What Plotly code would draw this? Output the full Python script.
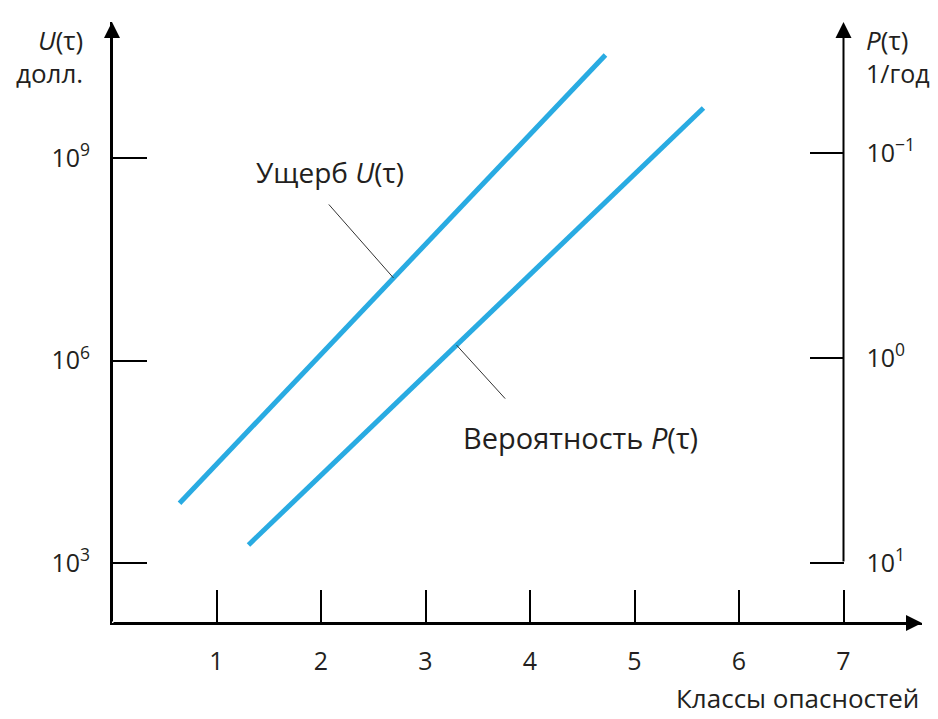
import math
import plotly.graph_objects as go

# ---------------- data ----------------
damage_x = [0.646, 4.722]              # hazard class
damage_u = [7.7e3, 3.36e10]            # U(τ), долл.
prob_x = [1.306, 5.660]                # hazard class
prob_p = [8.17, 0.0603]                # P(τ), 1/год

x_ticks = [1, 2, 3, 4, 5, 6, 7]
x_tick_text = ["1", "2", "3", "4", "5", "6", "7"]
u_ticks = [1e3, 1e6, 1e9]
u_tick_text = ["10<sup>3</sup>", "10<sup>6</sup>", "10<sup>9</sup>"]
p_ticks = [10, 1, 0.1]
p_tick_text = ["10<sup>1</sup>", "10<sup>0</sup>", "10<sup>\u22121</sup>"]

# ---------------- layout geometry ----------------
OFF = 8                     # page body margin of the browser
W, H = 938 - OFF, 719 - OFF
L, R, T, B = 112 - OFF, 16, 22 - OFF, 96
PW, PH = W - L - R, H - T - B
X_MAX = PW / 104.5
U_RANGE = [2.111, 11.015]
P_RANGE = [1.293, -1.639]

BLUE = "#29ABE2"
FONT = "Open Sans"
TXT = "#231f20"


def px(xp):
    # xp: pixel in the 938x719 window
    return (xp - OFF - L) / PW


def py(yp):
    return 1 - (yp - OFF - T) / PH


def interp_log(xs, ys, x):
    t = (x - xs[0]) / (xs[1] - xs[0])
    return math.log10(ys[0]) + t * (math.log10(ys[1]) - math.log10(ys[0]))


fig = go.Figure()
fig.add_trace(go.Scatter(x=damage_x, y=damage_u, mode="lines",
                         line=dict(color=BLUE, width=5), yaxis="y",
                         showlegend=False, hoverinfo="skip"))
fig.add_trace(go.Scatter(x=prob_x, y=prob_p, mode="lines",
                         line=dict(color=BLUE, width=5), yaxis="y2",
                         showlegend=False, hoverinfo="skip"))

annotations = []
# axis arrows
arrow = dict(showarrow=True, arrowhead=2, arrowsize=1.6, arrowwidth=2,
             arrowcolor="black", text="", standoff=0)
annotations.append(dict(arrow, xref="paper", yref="paper", x=0, y=1,
                        ax=0, ay=PH))
annotations.append(dict(arrow, xref="paper", yref="paper", x=1, y=0,
                        ax=-PW, ay=0))
annotations.append(dict(arrow, xref="x", yref="y2", x=7, y=P_RANGE[1],
                        axref="x", ayref="y2", ax=7, ay=math.log10(p_ticks[0])))

# leader lines
annotations.append(dict(xref="x", yref="y", x=2.694,
                        y=interp_log(damage_x, damage_u, 2.694),
                        ax=-66, ay=-75, showarrow=True, arrowhead=0,
                        arrowwidth=1, arrowcolor="#333", text=""))
annotations.append(dict(xref="x", yref="y2", x=3.297,
                        y=interp_log(prob_x, prob_p, 3.297),
                        ax=50, ay=55, showarrow=True, arrowhead=0,
                        arrowwidth=1, arrowcolor="#333", text=""))

# labels
lab_font = dict(family=FONT, size=28, color=TXT)
annotations.append(dict(xref="paper", yref="paper", x=px(330), y=py(172),
                        text="Ущерб <i>U</i>(τ)", showarrow=False,
                        font=lab_font, xanchor="center", yanchor="middle"))
annotations.append(dict(xref="paper", yref="paper", x=px(580), y=py(437),
                        text="Вероятность <i>P</i>(τ)", showarrow=False,
                        font=dict(lab_font, size=29), xanchor="center",
                        yanchor="middle"))
ax_font = dict(family=FONT, size=26, color=TXT)
annotations.append(dict(xref="paper", yref="paper", x=px(85), y=py(40),
                        text="<i>U</i>(τ)", showarrow=False, font=ax_font,
                        xanchor="right", yanchor="middle"))
annotations.append(dict(xref="paper", yref="paper", x=px(85), y=py(73),
                        text="долл.", showarrow=False, font=ax_font,
                        xanchor="right", yanchor="middle"))
annotations.append(dict(xref="paper", yref="paper", x=px(864), y=py(40),
                        text="<i>P</i>(τ)", showarrow=False, font=ax_font,
                        xanchor="left", yanchor="middle"))
annotations.append(dict(xref="paper", yref="paper", x=px(864), y=py(73),
                        text="1/год", showarrow=False,
                        font=dict(ax_font, size=25),
                        xanchor="left", yanchor="middle"))
annotations.append(dict(xref="paper", yref="paper", x=px(920), y=py(717),
                        text="Классы опасностей", showarrow=False,
                        font=ax_font, xanchor="right", yanchor="bottom",
                        borderpad=0))

tick_font = dict(family=FONT, size=25, color=TXT)
fig.update_layout(
    width=W, height=H,
    margin=dict(l=L, r=R, t=T, b=B, pad=0),
    paper_bgcolor="white", plot_bgcolor="white",
    showlegend=False,
    xaxis=dict(range=[0, X_MAX], tickvals=x_ticks, ticktext=x_tick_text,
               ticks="inside", ticklen=33, tickwidth=2, tickcolor="black",
               showline=True, linewidth=2, linecolor="black",
               showgrid=False, zeroline=False, tickfont=tick_font,
               ticklabelstandoff=15, fixedrange=True),
    yaxis=dict(type="log", range=U_RANGE, tickvals=u_ticks,
               ticktext=u_tick_text, ticks="inside", ticklen=35,
               tickwidth=2, tickcolor="black", showline=True, linewidth=2,
               linecolor="black", showgrid=False, zeroline=False,
               tickfont=tick_font, ticklabelstandoff=15),
    yaxis2=dict(type="log", range=P_RANGE, tickvals=p_ticks,
                ticktext=p_tick_text, ticks="inside", ticklen=34,
                tickwidth=2, tickcolor="black", showline=False,
                showgrid=False, zeroline=False, overlaying="y",
                side="right", anchor="free", position=7 / X_MAX,
                tickfont=tick_font, ticklabelstandoff=22),
    annotations=annotations,
)

fig.write_html("out.html")
